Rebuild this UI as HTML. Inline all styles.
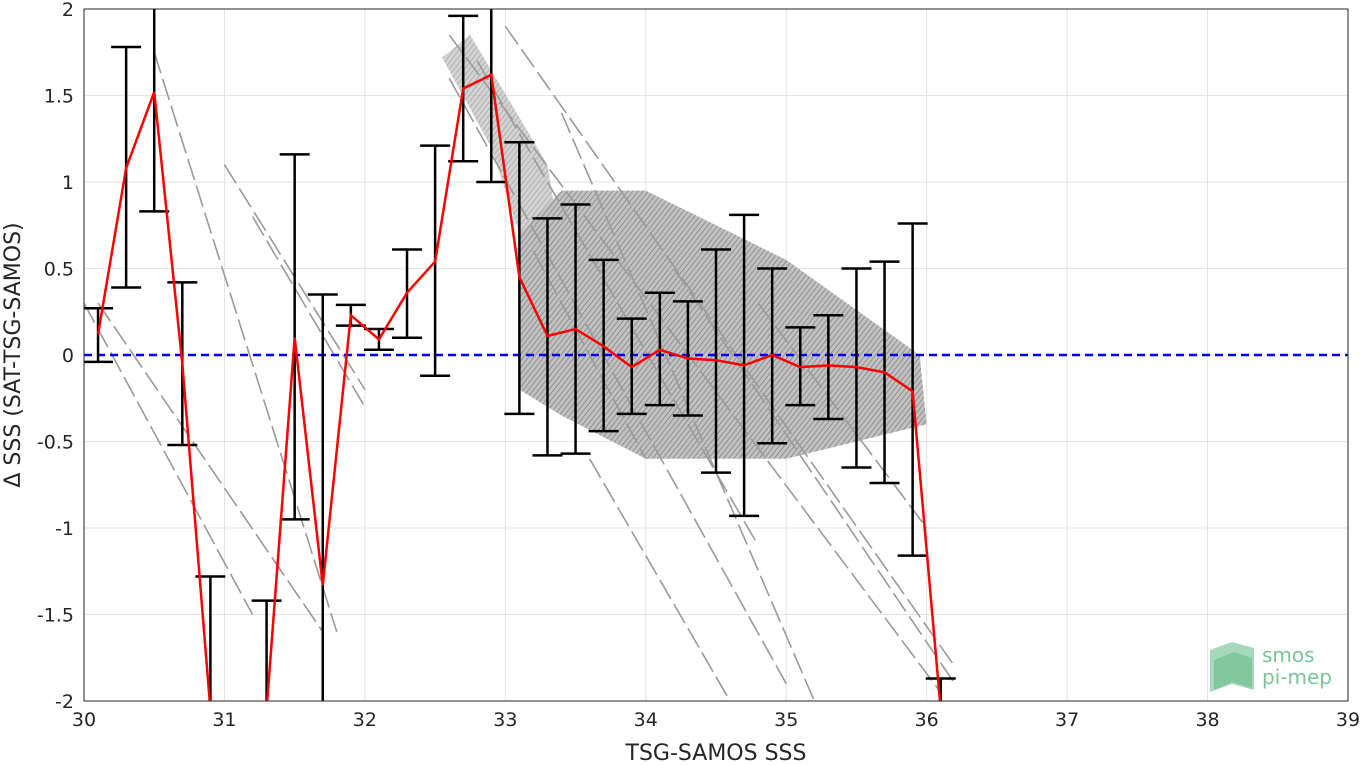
<!DOCTYPE html>
<html><head><meta charset="utf-8"><style>
html,body{margin:0;padding:0;background:#fff;overflow:hidden;width:1360px;height:765px}
svg{display:block}
svg text{font-family:"DejaVu Sans","Liberation Sans",sans-serif}
</style></head><body>
<svg id="chart" width="1360" height="765" xmlns="http://www.w3.org/2000/svg">
<defs>
<clipPath id="clip"><rect x="84" y="9" width="1264" height="692"/></clipPath>
<pattern id="hatch" width="4" height="4" patternUnits="userSpaceOnUse" patternTransform="rotate(38)">
<rect width="4" height="4" fill="#c2c2c2"/>
<line x1="0" y1="0" x2="0" y2="4" stroke="#8e8e8e" stroke-width="2"/></pattern>
</defs>
<g id="grid"></g>
<g id="scatter" clip-path="url(#clip)"></g>
<g id="zero"></g>
<g id="errs" clip-path="url(#clip)"></g>
<g id="mean" clip-path="url(#clip)"></g>
<rect x="84" y="9" width="1264" height="692" fill="none" stroke="#262626" stroke-width="1"/>
<g id="ticks"></g>
<text x="716" y="760" text-anchor="middle" font-size="22" fill="#262626">TSG-SAMOS SSS</text>
<text transform="translate(20,355) rotate(-90)" text-anchor="middle" font-size="22" fill="#262626">Δ SSS (SAT-TSG-SAMOS)</text>
<g>
<path d="M1210 650 L1232 642 L1254 648 L1254 690 L1232 684 L1210 692 Z" fill="#8fcfa8" opacity="0.8"/>
<path d="M1214 660 L1234 652 L1252 658 L1252 688 L1232 682 L1214 690 Z" fill="#6dbb8c" opacity="0.6"/>
<text x="1262" y="662" font-size="20" fill="#7cc49a">smos</text>
<text x="1262" y="684" font-size="20" fill="#7cc49a">pi-mep</text>
</g>
</svg>
<script>
const xTicks=[30,31,32,33,34,35,36,37,38,39];
const yTicks=[-2,-1.5,-1,-0.5,0,0.5,1,1.5,2];
const yTickLabels=["-2","-1.5","-1","-0.5","0","0.5","1","1.5","2"];
const binX=[30.1,30.3,30.5,30.7,30.9,31.3,31.5,31.7,31.9,32.1,32.3,32.5,32.7,32.9,33.1,33.3,33.5,33.7,33.9,34.1,34.3,34.5,34.7,34.9,35.1,35.3,35.5,35.7,35.9,36.1];
const binMean=[0.12,1.08,1.52,-0.05,-3.2,-3.0,0.1,-1.33,0.23,0.09,0.36,0.54,1.54,1.62,0.45,0.11,0.15,0.05,-0.07,0.03,-0.02,-0.03,-0.06,0.0,-0.07,-0.06,-0.07,-0.1,-0.21,-2.6];
const binHi=[0.27,1.78,2.2,0.42,-1.28,-1.42,1.16,0.35,0.29,0.15,0.61,1.21,1.96,2.2,1.23,0.79,0.87,0.55,0.21,0.36,0.31,0.61,0.81,0.5,0.16,0.23,0.5,0.54,0.76,-1.87];
const binLo=[-0.04,0.39,0.83,-0.52,-4,-4,-0.95,-4,0.17,0.03,0.1,-0.12,1.12,1.0,-0.34,-0.58,-0.57,-0.44,-0.34,-0.29,-0.35,-0.68,-0.93,-0.51,-0.29,-0.37,-0.65,-0.74,-1.16,-4];
const cloudX=[33.1,33.4,34.0,35.0,35.95,36.0,35.0,34.0,33.4,33.1];
const cloudY=[0.7,0.95,0.95,0.55,0.0,-0.4,-0.6,-0.6,-0.35,-0.2];
const cloud2X=[32.55,32.75,33.3,33.4,33.1,32.9];
const cloud2Y=[1.72,1.85,1.1,0.6,0.7,1.2];
const streakX0=[30.5,30.1,31.0,32.6,32.6,32.8,33.0,33.4,33.2,34.2,34.8,33.6,30.0,31.2];
const streakY0=[1.75,0.3,1.1,1.85,1.6,1.7,1.9,1.4,0.6,0.5,0.3,-0.6,0.3,0.8];
const streakX1=[31.8,31.7,32.0,36.1,35.0,34.8,36.2,35.2,34.0,36.2,36.0,34.6,31.2,32.0];
const streakY1=[-1.6,-1.6,-0.2,-1.95,-1.9,-1.1,-1.8,-2.0,-0.6,-1.9,-1.0,-2.0,-1.5,-0.3];
const X=v=>84+(v-30)*(1264/9);
const Y=v=>{const c=Math.max(-2.05,Math.min(2.05,v));return 9+(2-c)*(692/4);};
const NS="http://www.w3.org/2000/svg";
function mk(t,a,p){const e=document.createElementNS(NS,t);for(const k in a)e.setAttribute(k,a[k]);p.appendChild(e);return e;}
const grid=document.getElementById('grid'),ticks=document.getElementById('ticks');
xTicks.forEach(v=>{
 const l=mk('line',{x1:X(v),x2:X(v),y1:9,y2:701,stroke:'#e3e3e3'},grid);
 
 
 const t=mk('text',{x:X(v),y:726,'text-anchor':'middle','font-size':19,fill:'#262626'},ticks);
 t.textContent=v;
 
 
});
yTicks.forEach((v,i)=>{
 const l=mk('line',{x1:84,x2:1348,y1:Y(v),y2:Y(v),stroke:'#e3e3e3'},grid);
 
 
 const t=mk('text',{x:74,y:Y(v)+7,'text-anchor':'end','font-size':19,fill:'#262626'},ticks);
 t.textContent=yTickLabels[i];
 
 
});
const sc=document.getElementById('scatter');
const poly=mk('polygon',{points:cloudX.map((x,i)=>X(x)+','+Y(cloudY[i])).join(' '),fill:'url(#hatch)'},sc);


const poly2=mk('polygon',{points:cloud2X.map((x,i)=>X(x)+','+Y(cloud2Y[i])).join(' '),fill:'url(#hatch)',opacity:0.7},sc);


streakX0.forEach((x,i)=>{
 const l=mk('line',{x1:X(x),y1:Y(streakY0[i]),x2:X(streakX1[i]),y2:Y(streakY1[i]),stroke:'#9a9a9a','stroke-width':1.6,'stroke-dasharray':'22 6'},sc);
 
 
});
const z=mk('line',{x1:84,x2:1348,y1:Y(0),y2:Y(0),stroke:'#0000ff','stroke-width':2.5,'stroke-dasharray':'8 5'},document.getElementById('zero'));


const eg=document.getElementById('errs');
binX.forEach((x,i)=>{
 const g=mk('g',{stroke:'#000','stroke-width':2.5},eg);
 
 
 mk('line',{x1:X(x),x2:X(x),y1:Y(binHi[i]),y2:Y(binLo[i])},g);
 if(binHi[i]<=2.05)mk('line',{x1:X(x)-15,x2:X(x)+15,y1:Y(binHi[i]),y2:Y(binHi[i])},g);
 if(binLo[i]>=-2.05)mk('line',{x1:X(x)-15,x2:X(x)+15,y1:Y(binLo[i]),y2:Y(binLo[i])},g);
});
const m=mk('polyline',{points:binX.map((x,i)=>X(x)+','+Y(binMean[i])).join(' '),fill:'none',stroke:'#ff0000','stroke-width':2.5},document.getElementById('mean'));


</script>
</body></html>
